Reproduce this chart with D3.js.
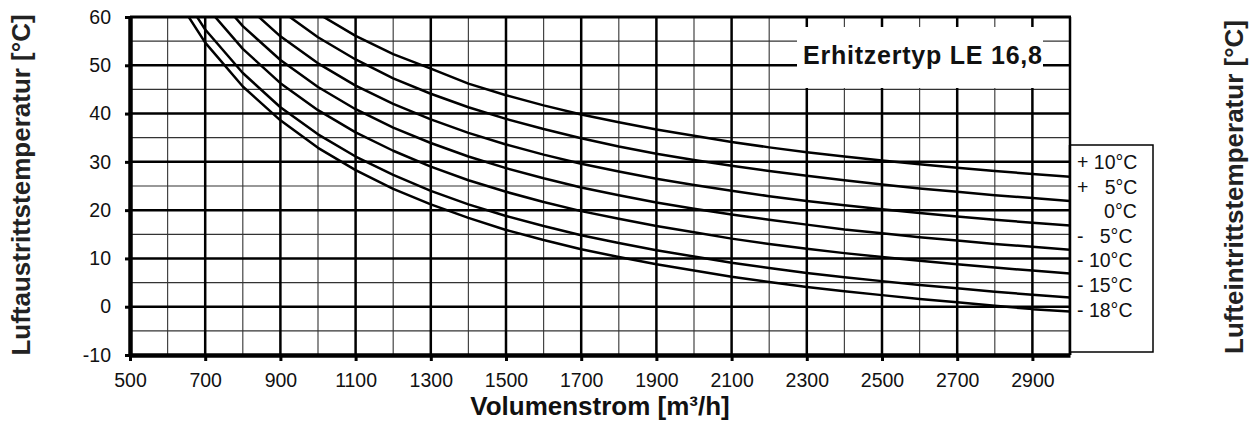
<!DOCTYPE html>
<html>
<head>
<meta charset="utf-8">
<script src="https://cdn.jsdelivr.net/npm/d3@7"></script>
<style>
  html, body { margin: 0; padding: 0; background: #fff; }
  svg { display: block; font-family: "Liberation Sans", Arial, sans-serif; }
</style>
</head>
<body>
<svg id="chart" width="1258" height="423"></svg>
<script>
// ---- data ----
const volumes = [600,700,800,900,1000,1100,1200,1300,1400,1500,1600,1700,1800,1900,2000,2100,2200,2300,2400,2500,2600,2700,2800,2900,3000];
const seriesP10 = [null,null,null,66.3,60.7,56.1,52.3,49.3,46.2,43.8,41.7,39.8,38.2,36.7,35.4,34.1,33.0,32.0,31.1,30.3,29.5,28.8,28.1,27.5,26.9];
const seriesP5  = [null,null,68.5,61.4,55.8,51.2,47.3,44.1,41.3,38.9,36.8,34.9,33.2,31.7,30.4,29.2,28.1,27.1,26.2,25.3,24.5,23.8,23.1,22.5,21.9];
const series0   = [null,72.0,63.0,56.0,50.4,45.8,42.0,38.8,36.0,33.6,31.5,29.6,28.0,26.5,25.2,24.0,22.9,21.9,21.0,20.2,19.4,18.7,18.0,17.4,16.8];
const seriesM5  = [null,67.1,58.1,51.1,45.5,40.9,37.1,33.9,31.1,28.7,26.6,24.7,23.1,21.6,20.3,19.1,18.0,17.0,16.0,15.2,14.4,13.7,13.0,12.4,11.8];
const seriesM10 = [74.5,62.4,53.4,46.3,40.7,36.1,32.3,29.0,26.2,23.8,21.7,19.8,18.2,16.7,15.4,14.1,13.0,12.0,11.1,10.3,9.5,8.8,8.1,7.5,6.9];
const seriesM15 = [69.5,57.4,48.4,41.3,35.7,31.1,27.3,24.0,21.2,18.8,16.7,14.8,13.2,11.7,10.4,9.1,8.0,7.0,6.1,5.3,4.5,3.8,3.1,2.5,1.9];
const seriesM18 = [66.8,54.7,45.6,38.6,32.9,28.3,24.4,21.2,18.4,15.9,13.8,11.9,10.3,8.8,7.5,6.2,5.1,4.1,3.2,2.4,1.6,0.9,0.2,-0.5,-1.0];
const legendLabels = ["+ 10°C", "+   5°C", "     0°C", "-   5°C", "- 10°C", "- 15°C", "- 18°C"];
const xTickValues = [500,700,900,1100,1300,1500,1700,1900,2100,2300,2500,2700,2900];
const xMinorGrid  = [600,800,1000,1200,1400,1600,1800,2000,2200,2400,2600,2800];
const yTickValues = [-10,0,10,20,30,40,50,60];
const yMinorGrid  = [-5,5,15,25,35,45,55];
const xDomain = [500, 3000];
const yDomain = [-10, 60];
const titleText = "Erhitzertyp LE 16,8";
const xTitle = "Volumenstrom [m³/h]";
const yTitleLeft = "Luftaustrittstemperatur [°C]";
const yTitleRight = "Lufteintrittstemperatur [°C]";

const allSeries = [seriesP10, seriesP5, series0, seriesM5, seriesM10, seriesM15, seriesM18];

// ---- layout ----
const L = 130, R = 1070, T = 17, B = 355;
const svg = d3.select("#chart");
const x = d3.scaleLinear().domain(xDomain).range([L, R]);
const y = d3.scaleLinear().domain(yDomain).range([B, T]);
const plainFormat = d => String(d);

svg.append("rect").attr("width", 1258).attr("height", 423).attr("fill", "#fff");

svg.append("defs").append("clipPath").attr("id", "plotclip")
  .append("rect").attr("x", L).attr("y", T).attr("width", R - L).attr("height", B - T);

const grid = svg.append("g");
// minor grid
grid.selectAll("line.vmin").data(xMinorGrid).join("line")
  .attr("x1", d => x(d)).attr("x2", d => x(d)).attr("y1", T).attr("y2", B)
  .attr("stroke", "#444").attr("stroke-width", 1.2);
grid.selectAll("line.hmin").data(yMinorGrid).join("line")
  .attr("y1", d => y(d)).attr("y2", d => y(d)).attr("x1", L).attr("x2", R)
  .attr("stroke", "#333").attr("stroke-width", 1.2);
// major grid
grid.selectAll("line.vmaj").data(xTickValues.filter(v => v > xDomain[0])).join("line")
  .attr("x1", d => x(d)).attr("x2", d => x(d)).attr("y1", T).attr("y2", B)
  .attr("stroke", "#000").attr("stroke-width", 2.5);
grid.selectAll("line.hmaj").data(yTickValues.filter(v => v > yDomain[0] && v < yDomain[1])).join("line")
  .attr("y1", d => y(d)).attr("y2", d => y(d)).attr("x1", L).attr("x2", R)
  .attr("stroke", "#000").attr("stroke-width", 2.5);

// white title box over grid
svg.append("rect").attr("x", 797).attr("y", 27).attr("width", 246).attr("height", 61).attr("fill", "#fff");
svg.append("text").attr("x", 803).attr("y", 64)
  .attr("font-size", 25).attr("font-weight", "bold").attr("fill", "#111")
  .attr("textLength", 239).attr("lengthAdjust", "spacing")
  .text(titleText);

// curves
const line = d3.line()
  .defined(d => d[1] !== null)
  .x(d => x(d[0])).y(d => y(d[1]));
svg.append("g").attr("clip-path", "url(#plotclip)")
  .selectAll("path").data(allSeries).join("path")
  .attr("d", s => line(volumes.map((v, i) => [v, s[i]])))
  .attr("fill", "none").attr("stroke", "#000").attr("stroke-width", 2.5)
  .attr("stroke-linejoin", "round");

// top and right border
svg.append("line").attr("x1", L).attr("x2", R + 1).attr("y1", T).attr("y2", T)
  .attr("stroke", "#000").attr("stroke-width", 3);
svg.append("line").attr("x1", R).attr("x2", R).attr("y1", T).attr("y2", B)
  .attr("stroke", "#000").attr("stroke-width", 2.5);

// axes
const yAxis = d3.axisLeft(y).tickValues(yTickValues).tickFormat(plainFormat)
  .tickSize(5).tickSizeOuter(0).tickPadding(14);
const gy = svg.append("g").attr("transform", `translate(${L},0)`).call(yAxis);
gy.select(".domain").attr("stroke", "#000").attr("stroke-width", 4.5);
gy.selectAll(".tick line").attr("stroke", "#000").attr("stroke-width", 3);
gy.selectAll(".tick text").attr("font-size", 19.5).attr("fill", "#111")
  .attr("font-family", "'Liberation Sans', Arial, sans-serif");

const xAxis = d3.axisBottom(x).tickValues(xTickValues).tickFormat(plainFormat)
  .tickSize(6).tickSizeOuter(0);
const gx = svg.append("g").attr("transform", `translate(0,${B})`).call(xAxis);
gx.select(".domain").attr("stroke", "#000").attr("stroke-width", 4.5);
gx.selectAll(".tick line").attr("stroke", "#000").attr("stroke-width", 3);
gx.selectAll(".tick text").attr("font-size", 19.5).attr("fill", "#111")
  .attr("font-family", "'Liberation Sans', Arial, sans-serif")
  .attr("dy", null).attr("y", 32);

// legend box on the right
svg.append("rect").attr("x", R).attr("y", 145).attr("width", 83).attr("height", 207)
  .attr("fill", "#fff").attr("stroke", "#000").attr("stroke-width", 1.5);
svg.append("line").attr("x1", R).attr("x2", R).attr("y1", 145).attr("y2", B)
  .attr("stroke", "#000").attr("stroke-width", 2.5);
svg.append("g").selectAll("text").data(legendLabels).join("text")
  .attr("x", 1077).attr("y", (d, i) => 169 + i * 24.6)
  .attr("font-size", 19.5).attr("fill", "#111")
  .style("white-space", "pre")
  .text(d => d);

// axis titles
svg.append("text").attr("x", 600).attr("y", 415).attr("text-anchor", "middle")
  .attr("font-size", 26).attr("font-weight", "bold").attr("fill", "#111")
  .text(xTitle);
svg.append("text").attr("transform", "translate(30,185) rotate(-90)")
  .attr("text-anchor", "middle").attr("font-size", 26).attr("font-weight", "bold").attr("fill", "#222")
  .text(yTitleLeft);
svg.append("text").attr("transform", "translate(1243,187) rotate(-90)")
  .attr("text-anchor", "middle").attr("font-size", 26).attr("font-weight", "bold").attr("fill", "#222")
  .text(yTitleRight);
</script>
</body>
</html>
